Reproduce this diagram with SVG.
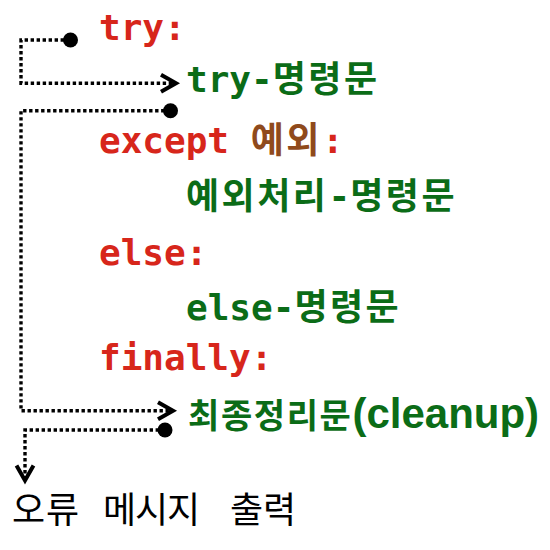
<svg xmlns="http://www.w3.org/2000/svg" width="550" height="550" viewBox="0 0 550 550">
<style>
.mono{font-family:"DejaVu Sans Mono","Noto Sans CJK KR",monospace;font-weight:bold;font-size:36px}
.k{letter-spacing:2.5px}
.red{fill:#d7261b}
.brown{fill:#8f4a1c}
.green{fill:#0b6c17}
.sans{font-family:"Liberation Sans","Noto Sans CJK KR",sans-serif;font-weight:bold}
.kr{font-family:"Noto Sans CJK KR","Liberation Sans",sans-serif}
.conn{fill:none;stroke:#000;stroke-width:3.4;stroke-dasharray:3.4 2.6}
.dot{fill:#000}
</style>
<defs>
<marker id="chev" markerUnits="userSpaceOnUse" viewBox="0 0 18 20" markerWidth="18" markerHeight="20" refX="16" refY="10" orient="auto" overflow="visible">
<path d="M1,1.5 L16,10 L1,18.5" fill="none" stroke="#000" stroke-width="4" stroke-linejoin="miter"/>
</marker>
</defs>
<rect width="550" height="550" fill="#fff"/>
<g id="connectors">
<path class="conn" d="M70,40 H21 V83.3 H176" marker-end="url(#chev)"/>
<circle class="dot" cx="70.5" cy="40" r="7.5"/>
<path class="conn" d="M170.5,110.7 H21 V410.7 H173" marker-end="url(#chev)"/>
<circle class="dot" cx="170.5" cy="110.7" r="7.5"/>
<path class="conn" d="M165,430 H25 V480.5" marker-end="url(#chev)"/>
<circle class="dot" cx="165" cy="430" r="7.5"/>
</g>
<g id="try"><text class="mono red" x="99" y="40">try:</text></g>
<g id="try-body"><text class="mono green" x="186" y="92">try-<tspan class="k">명령문</tspan></text></g>
<g id="except"><text class="mono red" x="99" y="153">except <tspan class="brown k">예외</tspan>:</text></g>
<g id="except-body"><text class="mono green" x="186" y="209"><tspan class="k">예외처리</tspan>-<tspan class="k">명령문</tspan></text></g>
<g id="else"><text class="mono red" x="99" y="265">else:</text></g>
<g id="else-body"><text class="mono green" x="186" y="320">else-<tspan class="k">명령문</tspan></text></g>
<g id="finally"><text class="mono red" x="99" y="370">finally:</text></g>
<g id="finally-body"><text class="green" x="188" y="428"><tspan class="kr" font-weight="bold" font-size="34" letter-spacing="1.6">최종정리문</tspan><tspan class="sans" font-size="42">(cleanup)</tspan></text></g>
<g id="error-output"><text class="kr" font-size="36" fill="#000" y="523"><tspan x="12 46">오류</tspan><tspan x="103 135 167">메시지</tspan><tspan x="230 263">출력</tspan></text></g>
</svg>
